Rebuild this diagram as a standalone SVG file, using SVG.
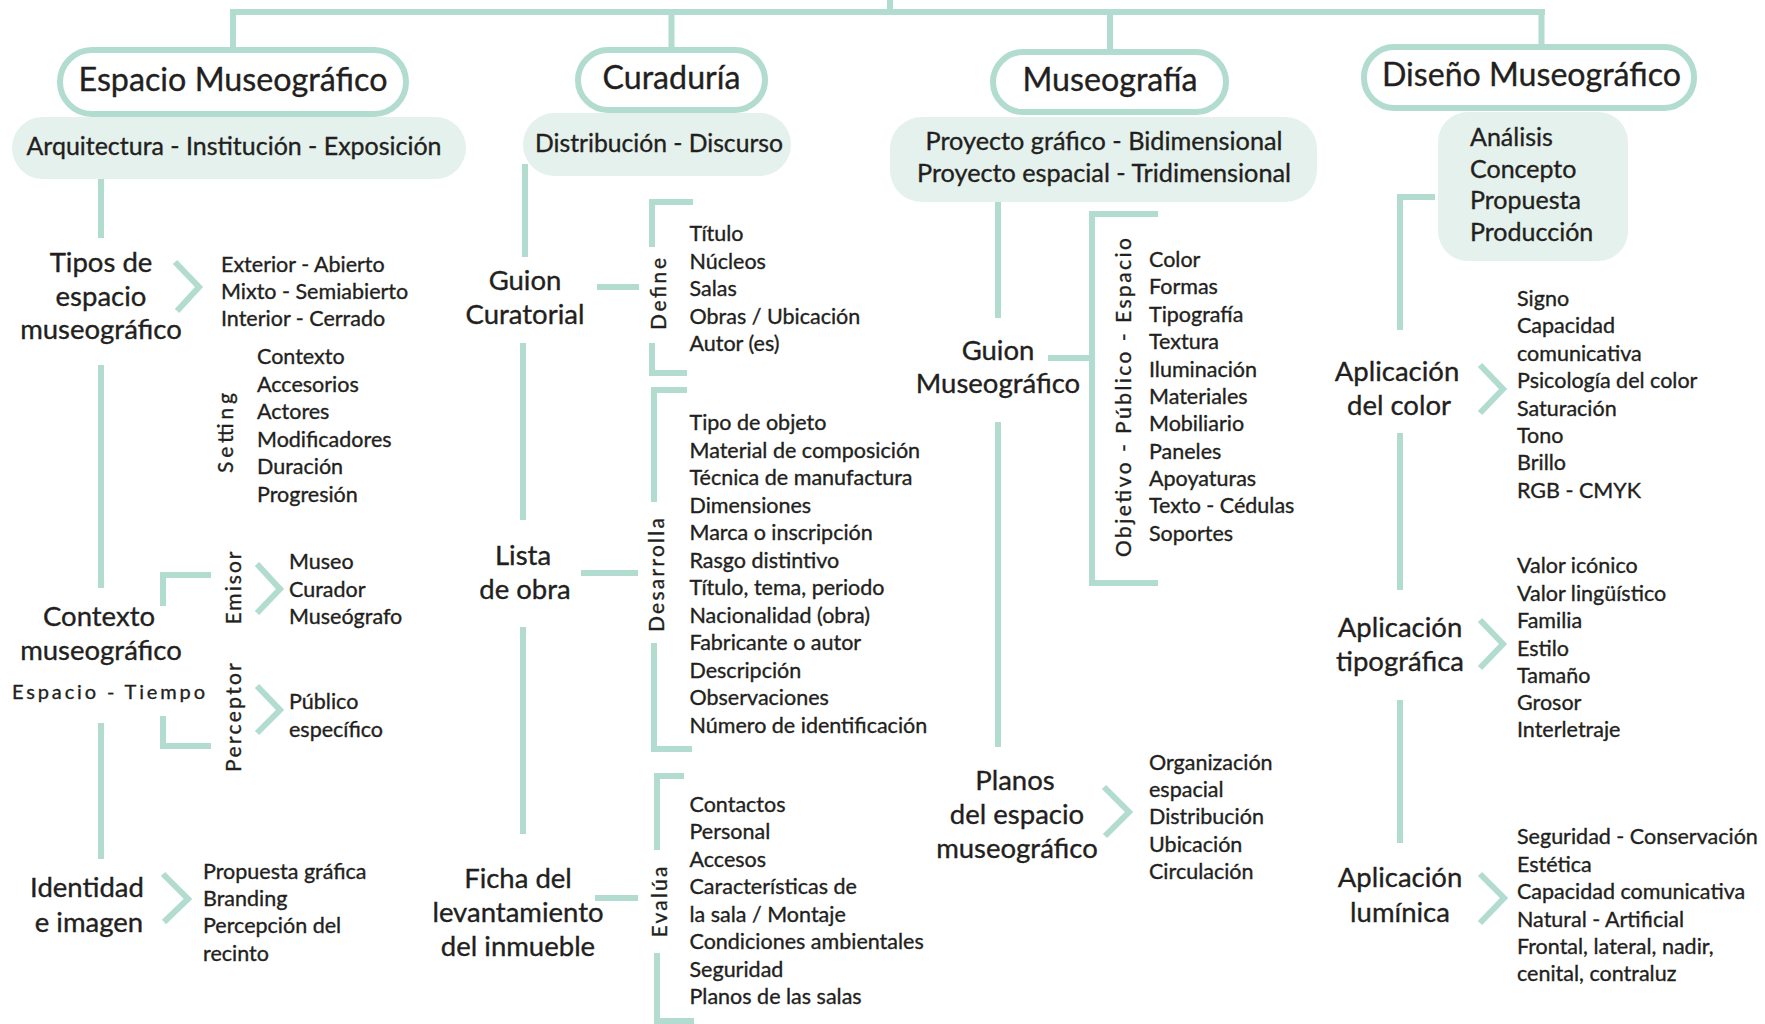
<svg xmlns="http://www.w3.org/2000/svg" width="1765" height="1024" viewBox="0 0 1765 1024">
  <style>
    text { font-family: Lato, "Open Sans", "Liberation Sans", sans-serif; fill: #231f20; stroke: #231f20; stroke-width: 0.35px; }
    .hd { font-size: 33px; text-anchor: middle; }
    .sb { font-size: 25px; text-anchor: middle; }
    .sl { font-size: 25px; }
    .nd { font-size: 27.5px; text-anchor: middle; }
    .it { font-size: 21.5px; }
    .rt { font-size: 21px; text-anchor: middle; }
    .et { font-size: 20px; text-anchor: middle; }
    .pill { fill: #ffffff; stroke: #b1dccf; stroke-width: 6; }
    .sub { fill: #e4f1ec; }
    .ln { fill: none; stroke: #b1dccf; stroke-width: 6; stroke-linecap: butt; stroke-linejoin: miter; }
  </style>

  <rect width="1765" height="1024" fill="#ffffff"/>

  <!-- connectors -->
  <g id="connectors" class="ln">
    <!-- top bar -->
    <path d="M230,12 H1545 M233,12 V48 M671.5,12 V48 M890,0 V12 M1110,12 V50 M1541.5,12 V45"/>
    <!-- Espacio Museográfico column -->
    <path d="M101,179 V238 M101,365 V588 M101,723 V859"/>
    <path d="M175,262 L199,287 L177,311"/>
    <path d="M211,575 H163 V606"/>
    <path d="M257,564 L280,589 L257,613"/>
    <path d="M163,716 V746 H211"/>
    <path d="M257,686 L280,710 L257,733"/>
    <path d="M163,874 L188,899 L164,922"/>
    <!-- Curaduría column -->
    <path d="M525,164 V257 M523,343 V520 M523,627 V834"/>
    <path d="M597,287 H639"/>
    <path d="M693,202 H652 V247 M652,343 V373 H687"/>
    <path d="M581,573 H638"/>
    <path d="M687,390 H654 V502 M654,643 V749 H692"/>
    <path d="M595,898 H638"/>
    <path d="M684,776 H657 V850 M657,953 V1021 H694"/>
    <!-- Museografía column -->
    <path d="M998,202 V318 M998,422 V747"/>
    <path d="M1048,358 H1092"/>
    <path d="M1158,214 H1092 V583 H1158"/>
    <path d="M1104,787 L1129,812 L1105,836"/>
    <!-- Diseño Museográfico column -->
    <path d="M1435,197 H1400 V330 M1400,433 V590 M1400,700 V843"/>
    <path d="M1480,365 L1503,389 L1480,413"/>
    <path d="M1480,620 L1503,644 L1480,668"/>
    <path d="M1480,874 L1504,898 L1480,923"/>
  </g>

  <!-- Espacio Museográfico -->
  <g id="espacio-museografico">
    <rect class="pill" x="60" y="50" width="346" height="64" rx="32"/>
    <text class="hd" x="233" y="91" textLength="309" lengthAdjust="spacingAndGlyphs">Espacio Museográfico</text>
  </g>
  <g id="espacio-sub">
    <rect class="sub" x="12" y="117" width="454" height="62" rx="31"/>
    <text class="sb" x="234" y="155" textLength="415" lengthAdjust="spacingAndGlyphs">Arquitectura - Institución - Exposición</text>
  </g>
  <g id="tipos-espacio">
    <text class="nd" x="101" y="272">Tipos de</text>
    <text class="nd" x="101" y="305.5">espacio</text>
    <text class="nd" x="101" y="339">museográfico</text>
  </g>
  <g id="tipos-lista">
    <text class="it" x="221" y="272">Exterior - Abierto</text>
    <text class="it" x="221" y="299">Mixto - Semiabierto</text>
    <text class="it" x="221" y="326">Interior - Cerrado</text>
  </g>
  <g id="setting">
    <text class="rt" transform="translate(233,433) rotate(-90)" textLength="80">Setting</text>
    <text class="it" x="257" y="364">Contexto</text>
    <text class="it" x="257" y="391.5">Accesorios</text>
    <text class="it" x="257" y="419">Actores</text>
    <text class="it" x="257" y="446.5">Modificadores</text>
    <text class="it" x="257" y="474">Duración</text>
    <text class="it" x="257" y="501.5">Progresión</text>
  </g>
  <g id="contexto-museografico">
    <text class="nd" x="99" y="626">Contexto</text>
    <text class="nd" x="101" y="660">museográfico</text>
    <text class="et" x="108.5" y="699" textLength="193">Espacio - Tiempo</text>
  </g>
  <g id="emisor">
    <text class="rt" transform="translate(241,588) rotate(-90)" textLength="73">Emisor</text>
    <text class="it" x="289" y="569">Museo</text>
    <text class="it" x="289" y="597">Curador</text>
    <text class="it" x="289" y="624">Museógrafo</text>
  </g>
  <g id="perceptor">
    <text class="rt" transform="translate(241,717.5) rotate(-90)" textLength="109">Perceptor</text>
    <text class="it" x="289" y="709">Público</text>
    <text class="it" x="289" y="737">específico</text>
  </g>
  <g id="identidad-imagen">
    <text class="nd" x="87" y="897">Identidad</text>
    <text class="nd" x="89" y="932">e imagen</text>
  </g>
  <g id="identidad-lista">
    <text class="it" x="203" y="879">Propuesta gráfica</text>
    <text class="it" x="203" y="906">Branding</text>
    <text class="it" x="203" y="933">Percepción del</text>
    <text class="it" x="203" y="960.5">recinto</text>
  </g>

  <!-- Curaduría -->
  <g id="curaduria">
    <rect class="pill" x="578" y="50" width="187" height="60" rx="30"/>
    <text class="hd" x="671.5" y="89" textLength="138" lengthAdjust="spacingAndGlyphs">Curaduría</text>
  </g>
  <g id="curaduria-sub">
    <rect class="sub" x="523" y="113" width="268" height="63" rx="31.5"/>
    <text class="sb" x="659" y="152" textLength="248" lengthAdjust="spacingAndGlyphs">Distribución - Discurso</text>
  </g>
  <g id="guion-curatorial">
    <text class="nd" x="525" y="290">Guion</text>
    <text class="nd" x="525" y="324">Curatorial</text>
  </g>
  <g id="define">
    <text class="rt" transform="translate(666,294) rotate(-90)" textLength="72">Define</text>
    <text class="it" x="689.5" y="241">Título</text>
    <text class="it" x="689.5" y="268.5">Núcleos</text>
    <text class="it" x="689.5" y="296">Salas</text>
    <text class="it" x="689.5" y="323.5">Obras / Ubicación</text>
    <text class="it" x="689.5" y="351">Autor (es)</text>
  </g>
  <g id="lista-obra">
    <text class="nd" x="523" y="565">Lista</text>
    <text class="nd" x="525" y="599">de obra</text>
  </g>
  <g id="desarrolla">
    <text class="rt" transform="translate(664,575) rotate(-90)" textLength="114">Desarrolla</text>
    <text class="it" x="689.5" y="430">Tipo de objeto</text>
    <text class="it" x="689.5" y="457.5">Material de composición</text>
    <text class="it" x="689.5" y="485">Técnica de manufactura</text>
    <text class="it" x="689.5" y="512.5">Dimensiones</text>
    <text class="it" x="689.5" y="540">Marca o inscripción</text>
    <text class="it" x="689.5" y="567.5">Rasgo distintivo</text>
    <text class="it" x="689.5" y="595">Título, tema, periodo</text>
    <text class="it" x="689.5" y="622.5">Nacionalidad (obra)</text>
    <text class="it" x="689.5" y="650">Fabricante o autor</text>
    <text class="it" x="689.5" y="677.5">Descripción</text>
    <text class="it" x="689.5" y="705">Observaciones</text>
    <text class="it" x="689.5" y="732.5">Número de identificación</text>
  </g>
  <g id="ficha-levantamiento">
    <text class="nd" x="518" y="888">Ficha del</text>
    <text class="nd" x="518" y="922">levantamiento</text>
    <text class="nd" x="518" y="956">del inmueble</text>
  </g>
  <g id="evalua">
    <text class="rt" transform="translate(667,902) rotate(-90)" textLength="71">Evalúa</text>
    <text class="it" x="689.5" y="812">Contactos</text>
    <text class="it" x="689.5" y="839">Personal</text>
    <text class="it" x="689.5" y="866.5">Accesos</text>
    <text class="it" x="689.5" y="894">Características de</text>
    <text class="it" x="689.5" y="921.5">la sala / Montaje</text>
    <text class="it" x="689.5" y="949">Condiciones ambientales</text>
    <text class="it" x="689.5" y="976.5">Seguridad</text>
    <text class="it" x="689.5" y="1004">Planos de las salas</text>
  </g>

  <!-- Museografía -->
  <g id="museografia">
    <rect class="pill" x="993" y="52" width="233" height="60" rx="30"/>
    <text class="hd" x="1110" y="91" textLength="175" lengthAdjust="spacingAndGlyphs">Museografía</text>
  </g>
  <g id="museografia-sub">
    <rect class="sub" x="890" y="117" width="427" height="85" rx="32"/>
    <text class="sb" x="1104" y="150" textLength="357" lengthAdjust="spacingAndGlyphs">Proyecto gráfico - Bidimensional</text>
    <text class="sb" x="1104" y="182" textLength="374" lengthAdjust="spacingAndGlyphs">Proyecto espacial - Tridimensional</text>
  </g>
  <g id="guion-museografico">
    <text class="nd" x="998" y="360">Guion</text>
    <text class="nd" x="998" y="393">Museográfico</text>
  </g>
  <g id="objetivo-publico-espacio">
    <text class="rt" transform="translate(1131,397.5) rotate(-90)" textLength="319">Objetivo - Público - Espacio</text>
    <text class="it" x="1149" y="267">Color</text>
    <text class="it" x="1149" y="294.4">Formas</text>
    <text class="it" x="1149" y="321.7">Tipografía</text>
    <text class="it" x="1149" y="349">Textura</text>
    <text class="it" x="1149" y="376.7">Iluminación</text>
    <text class="it" x="1149" y="404">Materiales</text>
    <text class="it" x="1149" y="431">Mobiliario</text>
    <text class="it" x="1149" y="458.5">Paneles</text>
    <text class="it" x="1149" y="485.7">Apoyaturas</text>
    <text class="it" x="1149" y="513">Texto - Cédulas</text>
    <text class="it" x="1149" y="540.7">Soportes</text>
  </g>
  <g id="planos-espacio">
    <text class="nd" x="1015" y="790">Planos</text>
    <text class="nd" x="1017" y="824">del espacio</text>
    <text class="nd" x="1017" y="858">museográfico</text>
  </g>
  <g id="planos-lista">
    <text class="it" x="1149" y="770">Organización</text>
    <text class="it" x="1149" y="797">espacial</text>
    <text class="it" x="1149" y="824">Distribución</text>
    <text class="it" x="1149" y="851.7">Ubicación</text>
    <text class="it" x="1149" y="879">Circulación</text>
  </g>

  <!-- Diseño Museográfico -->
  <g id="diseno-museografico">
    <rect class="pill" x="1364" y="47" width="330" height="61" rx="30"/>
    <text class="hd" x="1531.5" y="86" textLength="299" lengthAdjust="spacingAndGlyphs">Diseño Museográfico</text>
  </g>
  <g id="diseno-sub">
    <rect class="sub" x="1438" y="112" width="190" height="149" rx="30"/>
    <text class="sl" x="1470" y="146">Análisis</text>
    <text class="sl" x="1470" y="177.5">Concepto</text>
    <text class="sl" x="1470" y="209">Propuesta</text>
    <text class="sl" x="1470" y="241">Producción</text>
  </g>
  <g id="aplicacion-color">
    <text class="nd" x="1397" y="381">Aplicación</text>
    <text class="nd" x="1399" y="415">del color</text>
  </g>
  <g id="color-lista">
    <text class="it" x="1517" y="306">Signo</text>
    <text class="it" x="1517" y="333">Capacidad</text>
    <text class="it" x="1517" y="360.7">comunicativa</text>
    <text class="it" x="1517" y="388">Psicología del color</text>
    <text class="it" x="1517" y="415.7">Saturación</text>
    <text class="it" x="1517" y="442.7">Tono</text>
    <text class="it" x="1517" y="470">Brillo</text>
    <text class="it" x="1517" y="497.7">RGB - CMYK</text>
  </g>
  <g id="aplicacion-tipografica">
    <text class="nd" x="1400" y="636.7">Aplicación</text>
    <text class="nd" x="1400" y="670.7">tipográfica</text>
  </g>
  <g id="tipografica-lista">
    <text class="it" x="1517" y="573">Valor icónico</text>
    <text class="it" x="1517" y="600.7">Valor lingüístico</text>
    <text class="it" x="1517" y="628">Familia</text>
    <text class="it" x="1517" y="655.7">Estilo</text>
    <text class="it" x="1517" y="683">Tamaño</text>
    <text class="it" x="1517" y="710">Grosor</text>
    <text class="it" x="1517" y="737">Interletraje</text>
  </g>
  <g id="aplicacion-luminica">
    <text class="nd" x="1400" y="887">Aplicación</text>
    <text class="nd" x="1400" y="921.7">lumínica</text>
  </g>
  <g id="luminica-lista">
    <text class="it" x="1517" y="844">Seguridad - Conservación</text>
    <text class="it" x="1517" y="871.7">Estética</text>
    <text class="it" x="1517" y="899">Capacidad comunicativa</text>
    <text class="it" x="1517" y="926.7">Natural - Artificial</text>
    <text class="it" x="1517" y="954">Frontal, lateral, nadir,</text>
    <text class="it" x="1517" y="981">cenital, contraluz</text>
  </g>
</svg>
